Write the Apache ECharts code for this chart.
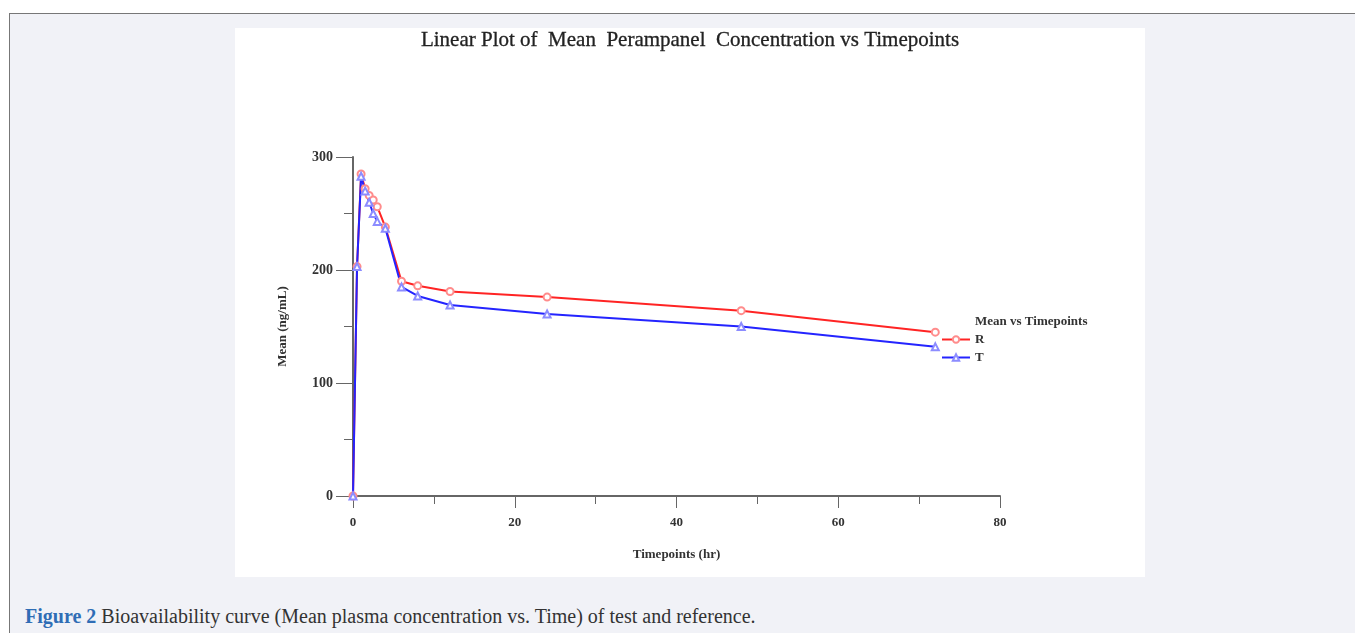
<!DOCTYPE html>
<html>
<head>
<meta charset="utf-8">
<script src="https://cdn.jsdelivr.net/npm/echarts@6/dist/echarts.min.js"></script>
<style>
  body { margin: 0; background: #fff; width: 1355px; height: 633px; overflow: hidden; }
  .frame { position: absolute; left: 9px; top: 13px; width: 1346px; height: 620px;
           background: #f1f2f7; border-top: 1px solid #777; border-left: 1px solid #777; }
  #chart { position: absolute; left: 235px; top: 28px; width: 910px; height: 549px; background: #fff; }
  .caption { position: absolute; left: 25px; top: 605px; font-family: "Liberation Serif", serif;
             font-size: 20px; color: #333; }
  .caption b { color: #2f6db5; }
</style>
</head>
<body>
<div class="frame"></div>
<div id="chart"></div>
<div class="caption"><b>Figure 2</b> Bioavailability curve (Mean plasma concentration vs. Time) of test and reference.</div>
<script>
  // 时间点 (hr)
  const timepoints = [0, 0.5, 1, 1.5, 2, 2.5, 3, 4, 6, 8, 12, 24, 48, 72];
  // 平均浓度 ng/mL
  const meanR = [0, 203, 285, 272, 266, 262, 256, 238, 190, 186, 181, 176, 164, 145];
  const meanT = [0, 203, 283, 270, 260, 250, 243, 237, 185, 177, 169, 161, 150, 132];
  const xTicks = [0, 20, 40, 60, 80];
  const yTicks = [0, 100, 200, 300];

  const pair = (ys) => timepoints.map((t, i) => [t, ys[i]]);
  const serif = '"Liberation Serif", "Times New Roman", serif';

  const chart = echarts.init(document.getElementById('chart'));
  chart.setOption({
    animation: false,
    title: {
      text: 'Linear Plot of  Mean  Perampanel  Concentration vs Timepoints',
      left: 'center', top: -3,
      textStyle: { fontFamily: serif, fontSize: 21, fontWeight: 'normal', color: '#222',
                   textBorderColor: '#222', textBorderWidth: 0.3 }
    },
    grid: { left: 118, top: 129, right: 145, bottom: 81 },
    legend: {
      orient: 'vertical', left: 701, top: 300,
      itemWidth: 28, itemHeight: 8, itemGap: 5,
      textStyle: { fontFamily: serif, fontSize: 13, fontWeight: 'bold', color: '#333' },
      data: ['R', 'T']
    },
    graphic: [{
      type: 'text', left: 740, top: 287,
      style: { text: 'Mean vs Timepoints', font: 'bold 13px ' + serif, fill: '#333' }
    }],
    xAxis: {
      type: 'value', min: xTicks[0], max: xTicks[xTicks.length - 1], interval: 20,
      name: 'Timepoints (hr)', nameLocation: 'middle', nameGap: 52,
      nameTextStyle: { fontFamily: serif, fontSize: 13, fontWeight: 'bold', color: '#333' },
      axisLine: { lineStyle: { color: '#666', width: 2 } },
      axisTick: { length: 12, lineStyle: { color: '#666', width: 1 } },
      minorTick: { show: true, splitNumber: 2, length: 8, lineStyle: { color: '#666' } },
      splitLine: { show: false },
      axisLabel: { margin: 20, fontFamily: serif, fontSize: 13, fontWeight: 'bold', color: '#333' }
    },
    yAxis: {
      type: 'value', min: yTicks[0], max: yTicks[yTicks.length - 1], interval: 100,
      name: 'Mean (ng/mL)', nameLocation: 'middle', nameGap: 64,
      nameTextStyle: { fontFamily: serif, fontSize: 13, fontWeight: 'bold', color: '#333' },
      axisLine: { show: true, lineStyle: { color: '#666', width: 2 } },
      axisTick: { show: true, length: 17, lineStyle: { color: '#666', width: 1 } },
      minorTick: { show: true, splitNumber: 2, length: 9, lineStyle: { color: '#666' } },
      splitLine: { show: false },
      axisLabel: { margin: 20, fontFamily: serif, fontSize: 14, fontWeight: 'bold', color: '#333' }
    },
    series: [
      {
        name: 'R', type: 'line', data: pair(meanR),
        symbol: 'emptyCircle', symbolSize: 7,
        lineStyle: { color: '#ff2424', width: 2 },
        itemStyle: { color: '#ff8c8c', borderColor: '#ff8c8c', borderWidth: 1 }
      },
      {
        name: 'T', type: 'line', data: pair(meanT),
        symbol: 'emptyTriangle', symbolSize: 7,
        lineStyle: { color: '#2424ff', width: 2 },
        itemStyle: { color: '#8c8cff', borderColor: '#8c8cff', borderWidth: 1 }
      }
    ]
  });
</script>
</body>
</html>
